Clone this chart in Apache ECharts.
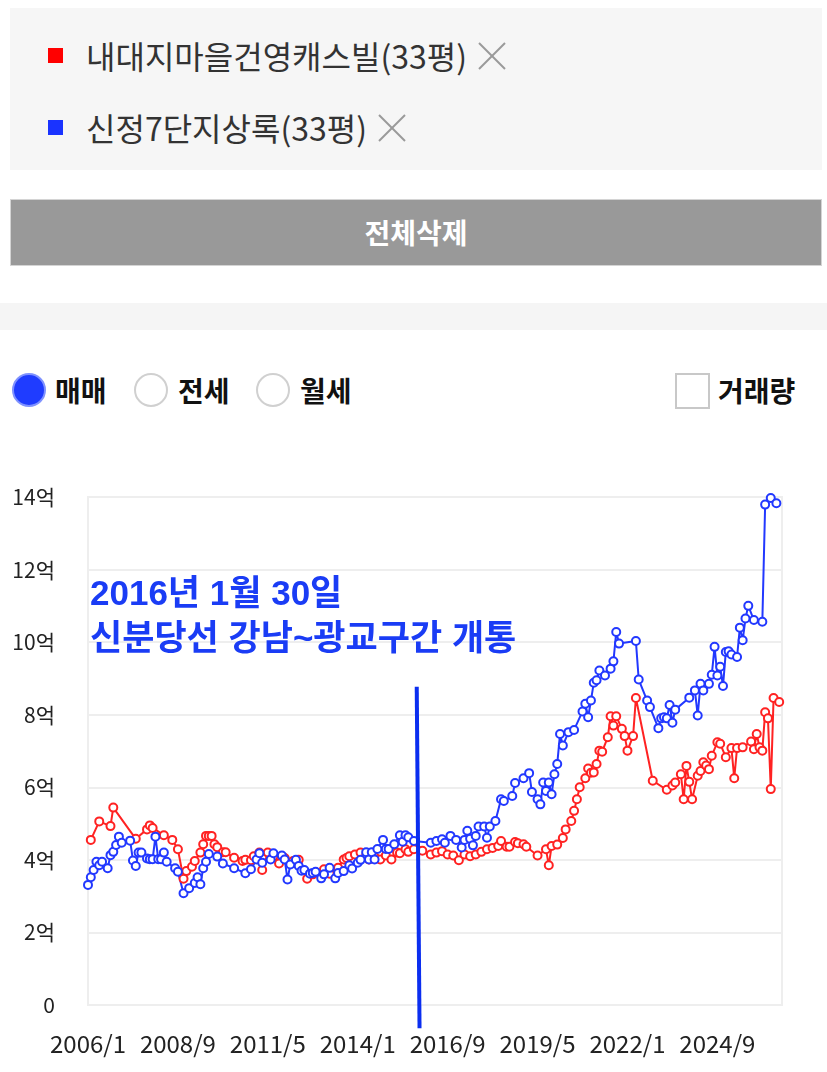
<!DOCTYPE html>
<html><head><meta charset="utf-8">
<script src="https://cdn.jsdelivr.net/npm/echarts@6/dist/echarts.min.js"></script>
<style>
html,body{margin:0;padding:0;width:827px;height:1072px;background:#fff;overflow:hidden;font-family:"Noto Sans CJK KR",sans-serif;}
.abs{position:absolute;}
#box{left:10px;top:8px;width:812px;height:162px;background:#f6f6f6;}
.sq{width:15px;height:15px;}
.lg{font-size:32px;color:#333;line-height:32px;white-space:nowrap;}
#btn{left:10px;top:199px;width:810px;height:65px;background:#999;border:1px solid #d4d4d4;color:#fff;font-weight:bold;font-size:28px;text-align:center;line-height:65px;}
#band{left:0;top:303px;width:827px;height:27px;background:#f5f5f5;}
.radio{width:30px;height:30px;border-radius:50%;border:2px solid #d0d0d0;background:#fff;box-sizing:content-box;}
.radio.on{background:#1f3cff;border-color:#7f92ff;}
.rl{font-size:28px;font-weight:bold;color:#111;line-height:28px;white-space:nowrap;}
#chk{left:675px;top:373px;width:31px;height:32px;border:2px solid #c8c8c8;background:#fff;}
#chart{left:0;top:440px;width:827px;height:632px;}
</style></head><body>
<div id="box" class="abs"></div>
<div class="abs sq" style="left:48px;top:48px;background:#ff0000;"></div>
<div class="abs lg" style="left:86px;top:39px;">내대지마을건영캐스빌(33평)</div>
<svg class="abs" style="left:478px;top:42px;" width="28" height="28"><line x1="1" y1="1" x2="27" y2="27" stroke="#9a9a9a" stroke-width="2"/><line x1="27" y1="1" x2="1" y2="27" stroke="#9a9a9a" stroke-width="2"/></svg>
<div class="abs sq" style="left:48px;top:120px;background:#1a33ff;"></div>
<div class="abs lg" style="left:86px;top:111px;">신정7단지상록(33평)</div>
<svg class="abs" style="left:378px;top:114px;" width="28" height="28"><line x1="1" y1="1" x2="27" y2="27" stroke="#9a9a9a" stroke-width="2"/><line x1="27" y1="1" x2="1" y2="27" stroke="#9a9a9a" stroke-width="2"/></svg>
<div id="btn" class="abs">전체삭제</div>
<div id="band" class="abs"></div>
<div class="abs radio on" style="left:12px;top:373px;"></div>
<div class="abs rl" style="left:55px;top:376px;">매매</div>
<div class="abs radio" style="left:134px;top:373px;"></div>
<div class="abs rl" style="left:178px;top:376px;">전세</div>
<div class="abs radio" style="left:256px;top:373px;"></div>
<div class="abs rl" style="left:300px;top:376px;">월세</div>
<div id="chk" class="abs"></div>
<div class="abs rl" style="left:718px;top:376px;">거래량</div>
<div id="chart" class="abs"></div>
<script>
const redDates = ['2006/2','2006/5','2006/9','2006/10','2007/6','2007/10','2007/11','2007/12','2008/4','2008/7','2008/9','2008/11','2008/12','2009/2','2009/3','2009/5','2009/6','2009/7','2009/8','2009/9','2009/10','2009/11','2010/1','2010/2','2010/5','2010/8','2010/9','2010/11','2010/12','2011/2','2011/3','2011/5','2011/7','2011/9','2011/11','2012/2','2012/4','2012/7','2012/9','2013/1','2013/3','2013/6','2013/8','2013/9','2013/10','2013/12','2014/2','2014/4','2014/5','2014/7','2014/9','2014/11','2015/1','2015/3','2015/4','2015/6','2015/7','2015/9','2015/12','2016/3','2016/5','2016/7','2016/9','2016/11','2017/1','2017/3','2017/5','2017/7','2017/9','2017/11','2018/1','2018/3','2018/4','2018/6','2018/7','2018/9','2018/10','2018/12','2019/1','2019/5','2019/8','2019/9','2019/10','2019/12','2020/2','2020/3','2020/5','2020/6','2020/7','2020/8','2020/10','2020/11','2020/12','2021/1','2021/2','2021/3','2021/4','2021/6','2021/7','2021/8','2021/9','2021/11','2021/12','2022/1','2022/3','2022/4','2022/10','2023/3','2023/5','2023/6','2023/8','2023/9','2023/10','2023/11','2023/12','2024/2','2024/3','2024/4','2024/5','2024/6','2024/7','2024/9','2024/10','2024/12','2025/2','2025/3','2025/4','2025/6','2025/9','2025/10','2025/11','2025/12','2026/1','2026/2','2026/3','2026/4','2026/5','2026/7'];
const redValues = [4.55,5.06,4.93,5.44,4.58,4.84,4.95,4.88,4.68,4.55,4.29,3.48,3.69,3.81,3.97,4.20,4.43,4.66,4.66,4.66,4.43,4.35,4.21,4.21,4.06,3.97,4.00,3.99,4.10,4.20,3.72,4.20,4.10,3.90,4.05,3.97,4.00,3.48,3.60,3.74,3.62,3.78,4.01,4.05,4.10,4.15,4.20,4.12,4.01,4.08,4.01,4.12,4.01,4.20,4.18,4.29,4.22,4.29,4.25,4.15,4.20,4.24,4.15,4.12,3.99,4.15,4.10,4.15,4.22,4.29,4.33,4.38,4.52,4.36,4.36,4.49,4.46,4.43,4.36,4.12,4.29,3.85,4.38,4.42,4.60,4.84,5.07,5.35,5.67,6.00,6.25,6.52,6.40,6.41,6.64,7.01,6.98,7.38,7.96,7.70,7.96,7.61,7.41,7.01,7.41,8.46,6.18,5.93,6.05,6.13,6.36,5.67,6.59,6.15,5.67,6.32,6.45,6.69,6.60,6.50,6.87,7.24,7.20,6.83,7.08,6.25,7.08,7.10,7.26,7.05,7.47,7.10,7.01,8.07,7.90,5.95,8.46,8.35];
const blueDates = ['2006/1','2006/2','2006/3','2006/4','2006/5','2006/6','2006/8','2006/9','2006/10','2006/11','2006/12','2007/1','2007/4','2007/5','2007/6','2007/7','2007/8','2007/10','2007/11','2007/12','2008/1','2008/2','2008/3','2008/4','2008/5','2008/8','2008/9','2008/11','2009/1','2009/3','2009/4','2009/5','2009/6','2009/7','2009/8','2009/11','2010/1','2010/5','2010/9','2010/11','2011/1','2011/2','2011/3','2011/6','2011/7','2011/10','2011/11','2011/12','2012/1','2012/3','2012/4','2012/5','2012/6','2012/8','2012/9','2012/10','2012/12','2013/1','2013/3','2013/5','2013/6','2013/8','2013/10','2013/11','2014/1','2014/2','2014/4','2014/5','2014/6','2014/7','2014/8','2014/10','2014/11','2014/12','2015/2','2015/4','2015/5','2015/6','2015/7','2015/9','2016/3','2016/5','2016/7','2016/8','2016/10','2016/12','2017/2','2017/3','2017/4','2017/5','2017/6','2017/7','2017/8','2017/10','2017/11','2017/12','2018/2','2018/4','2018/5','2018/8','2018/9','2018/12','2019/2','2019/3','2019/5','2019/6','2019/7','2019/8','2019/9','2019/10','2019/11','2019/12','2020/1','2020/2','2020/4','2020/6','2020/9','2020/10','2020/11','2020/12','2021/1','2021/2','2021/3','2021/5','2021/7','2021/8','2021/9','2021/10','2022/4','2022/5','2022/8','2022/9','2022/12','2023/1','2023/2','2023/3','2023/4','2023/5','2023/6','2023/11','2024/1','2024/2','2024/3','2024/4','2024/6','2024/7','2024/8','2024/9','2024/10','2024/11','2024/12','2025/1','2025/2','2025/4','2025/5','2025/6','2025/7','2025/8','2025/10','2026/1','2026/2','2026/4','2026/6'];
const blueValues = [3.31,3.52,3.72,3.95,3.85,3.95,3.77,4.13,4.22,4.41,4.64,4.47,4.53,3.98,3.83,4.20,4.20,4.04,4.02,4.02,4.64,4.02,4.02,4.20,3.95,3.77,3.67,3.08,3.22,3.36,3.52,3.33,3.77,3.95,4.16,4.09,3.90,3.77,3.63,3.74,4.01,4.18,3.92,4.01,4.18,4.12,4.01,3.46,3.87,4.00,3.83,3.70,3.72,3.62,3.64,3.67,3.49,3.60,3.78,3.49,3.64,3.69,3.85,3.76,3.92,4.00,4.21,4.01,4.21,4.01,4.30,4.55,4.30,4.30,4.43,4.68,4.50,4.68,4.62,4.52,4.47,4.52,4.57,4.47,4.66,4.55,4.34,4.55,4.80,4.58,4.40,4.66,4.92,4.92,4.61,4.92,5.07,5.67,5.62,5.76,6.12,6.25,6.39,5.87,5.67,5.53,6.13,5.90,6.13,5.81,6.36,6.64,7.47,7.15,7.52,7.58,8.09,8.30,7.93,8.39,8.88,8.95,9.22,9.08,9.27,9.47,10.28,9.96,10.03,8.97,8.39,8.21,7.63,7.90,7.93,7.90,8.27,7.78,8.14,8.47,8.67,7.98,8.85,8.67,8.85,9.10,9.87,9.08,9.32,8.79,9.73,9.75,9.66,9.59,10.40,10.05,10.65,11.00,10.61,10.56,13.79,13.97,13.83];
const yMin = 0, yMax = 14, yStep = 2;
const firstYear = 2006, lastYear = 2026, lastMonth = 8;
const months = [];
for (let y = firstYear; y <= lastYear; y++) {
  for (let m = 1; m <= 12; m++) {
    if (y === lastYear && m > lastMonth) break;
    months.push(y + '/' + m);
  }
}
const eventTop = ['2015/10', 8.77];
const eventBottom = ['2015/11', -0.64];
const eventLines = ['2016년 1월 30일', '신분당선 강남~광교구간 개통'];

const RED = '#ff2222', BLUE = '#2238ff';
const chart = echarts.init(document.getElementById('chart'));
chart.setOption({
  animation: false,
  grid: {left: 88, right: 45, top: 57, bottom: 67, show: true, borderColor: '#eeeeee', borderWidth: 2},
  xAxis: {
    type: 'category', data: months, boundaryGap: false,
    axisLine: {show: false}, axisTick: {show: false}, splitLine: {show: false},
    axisLabel: {interval: 31, color: '#222', fontSize: 24, margin: 27, fontFamily: 'Noto Sans CJK KR'}
  },
  yAxis: {
    type: 'value', min: yMin, max: yMax, interval: yStep,
    axisLine: {show: false}, axisTick: {show: false},
    axisLabel: {color: '#222', fontSize: 21, margin: 33, fontFamily: 'Noto Sans CJK KR',
      formatter: v => v === 0 ? '0' : v + '억'},
    splitLine: {lineStyle: {color: '#eeeeee', width: 2}}
  },
  series: [
    {type: 'line', name: '내대지마을건영캐스빌(33평)', data: redDates.map((d, i) => [d, redValues[i]]),
      showAllSymbol: true, symbol: 'circle', symbolSize: 8,
      lineStyle: {color: RED, width: 2},
      itemStyle: {color: '#fff', borderColor: RED, borderWidth: 2}},
    {type: 'line', name: '신정7단지상록(33평)', data: blueDates.map((d, i) => [d, blueValues[i]]),
      showAllSymbol: true, symbol: 'circle', symbolSize: 8,
      lineStyle: {color: BLUE, width: 2},
      itemStyle: {color: '#fff', borderColor: BLUE, borderWidth: 2}}
  ]
});
const pTop = chart.convertToPixel({gridIndex: 0}, [months.indexOf(eventTop[0]), eventTop[1]]);
const pBot = chart.convertToPixel({gridIndex: 0}, [months.indexOf(eventBottom[0]), eventBottom[1]]);
const textFont = 'bold 35px "Liberation Sans", "Noto Sans CJK KR", sans-serif';
chart.setOption({
  graphic: [
    {type: 'line', z: 100, shape: {x1: pTop[0], y1: pTop[1], x2: pBot[0], y2: pBot[1]},
      style: {stroke: '#0b2ef0', lineWidth: 4}},
    {type: 'text', z: 100, left: 90, top: 138, style: {text: eventLines[0], fill: '#1a3cf5', font: textFont}},
    {type: 'text', z: 100, left: 90, top: 183, style: {text: eventLines[1], fill: '#1a3cf5', font: textFont}}
  ]
});
</script>
</body></html>
